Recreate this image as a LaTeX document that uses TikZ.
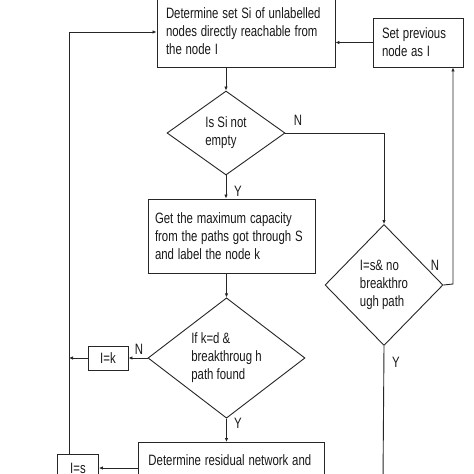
\documentclass[tikz,border=0pt]{standalone}
\usepackage{fontspec}
\setmainfont{Liberation Sans}
\usetikzlibrary{shapes.geometric,arrows.meta}
\newcommand{\sq}[1]{\scalebox{0.76}[1]{#1}}
\begin{document}
\begin{tikzpicture}[x=1pt,y=-1pt,
  line width=0.9pt,
  every node/.style={font=\fontsize{15}{18}\selectfont, text=black!90},
  box/.style={draw=black!85, rectangle, inner xsep=9pt, inner ysep=0pt, align=left},
  dia/.style={draw=black!85, diamond, inner sep=0pt, align=left},
  lab/.style={inner sep=0pt},
  arr/.style={draw=black!85, -{Latex[length=4pt,width=3.5pt]}},
  ln/.style={draw=black!85}]
\useasboundingbox (0,0) rectangle (474,474);
\clip (0,0) rectangle (474,474);
\fill[white] (0,0) rectangle (474,474);

\node[box, minimum width=178pt, minimum height=72pt, text width=160pt] (top) at (246,31)
  {\sq{Determine set Si of unlabelled}\\\sq{nodes directly reachable from}\\\sq{the node I}};
\node[box, minimum width=90pt, minimum height=49pt, text width=72pt] (sp) at (418,42.5)
  {\sq{Set previous}\\\sq{node as I}};
\node[dia, minimum width=118pt, minimum height=84pt] (d1) at (226,133)
  {\sq{Is Si not}\\\sq{empty}};
\node[box, inner xsep=7pt, minimum width=167pt, minimum height=74pt, text width=153pt] (b2) at (231.5,236)
  {\sq{Get the maximum capacity}\\\sq{from the paths got through S}\\\sq{and label the node k}};
\node[dia, minimum width=157pt, minimum height=119pt] (d3) at (226.5,358)
  {\sq{If k=d \&}\\\sq{breakthroug h}\\\sq{path found}};
\node[dia, minimum width=118pt, minimum height=121pt] (d2) at (384,285)
  {\sq{I=s\& no}\\\sq{breakthro}\\\sq{ugh path}};
\node[box, inner xsep=0pt, minimum width=40pt, minimum height=24pt] (ik) at (108,358) {\sq{I=k}};
\node[box, inner xsep=10pt, anchor=north west, minimum width=186pt, minimum height=36pt, text width=166pt] (b4) at (138,442)
  {\sq{Determine residual network and}};
\node[box, inner xsep=0pt, anchor=north west, minimum width=41pt, minimum height=28pt] (is) at (57,454) {\sq{I=s}};

\node[lab] (n1) at (298,120) {\sq{N}};
\node[lab] (y1) at (238,191) {\sq{Y}};
\node[lab] (n3) at (139,349) {\sq{N}};
\node[lab] (y3) at (238,423) {\sq{Y}};
\node[lab] (n2) at (435,265) {\sq{N}};
\node[lab] (y2) at (396,362) {\sq{Y}};

\coordinate (L) at (69,32);
\coordinate (R) at (453,284);
\coordinate (E) at (383,480);
\coordinate (A4) at (138,468);

\draw[arr] (top.south -| d1.north) -- (d1.north);
\draw[arr] (d1.south) -- (d1.south |- b2.north);
\draw[arr] (b2.south -| d3.north) -- (d3.north);
\draw[arr] (d3.south) -- (d3.south |- b4.north);
\draw[arr] (d1.east) -- (d1.east -| d2.north) -- (d2.north);
\draw[arr] (d2.east) -- (R) -- (R |- sp.south);
\draw[arr] (sp.west) -- (sp.west -| top.east);
\draw[ln] (d2.south) -- (E);
\draw[arr] (d3.west) -- (ik.east);
\draw[arr] (ik.west) -- (ik.west -| L);
\draw[arr] (L |- is.north) -- (L) -- (L -| top.west);
\draw[arr] (A4) -- (A4 -| is.east);
\end{tikzpicture}
\end{document}
